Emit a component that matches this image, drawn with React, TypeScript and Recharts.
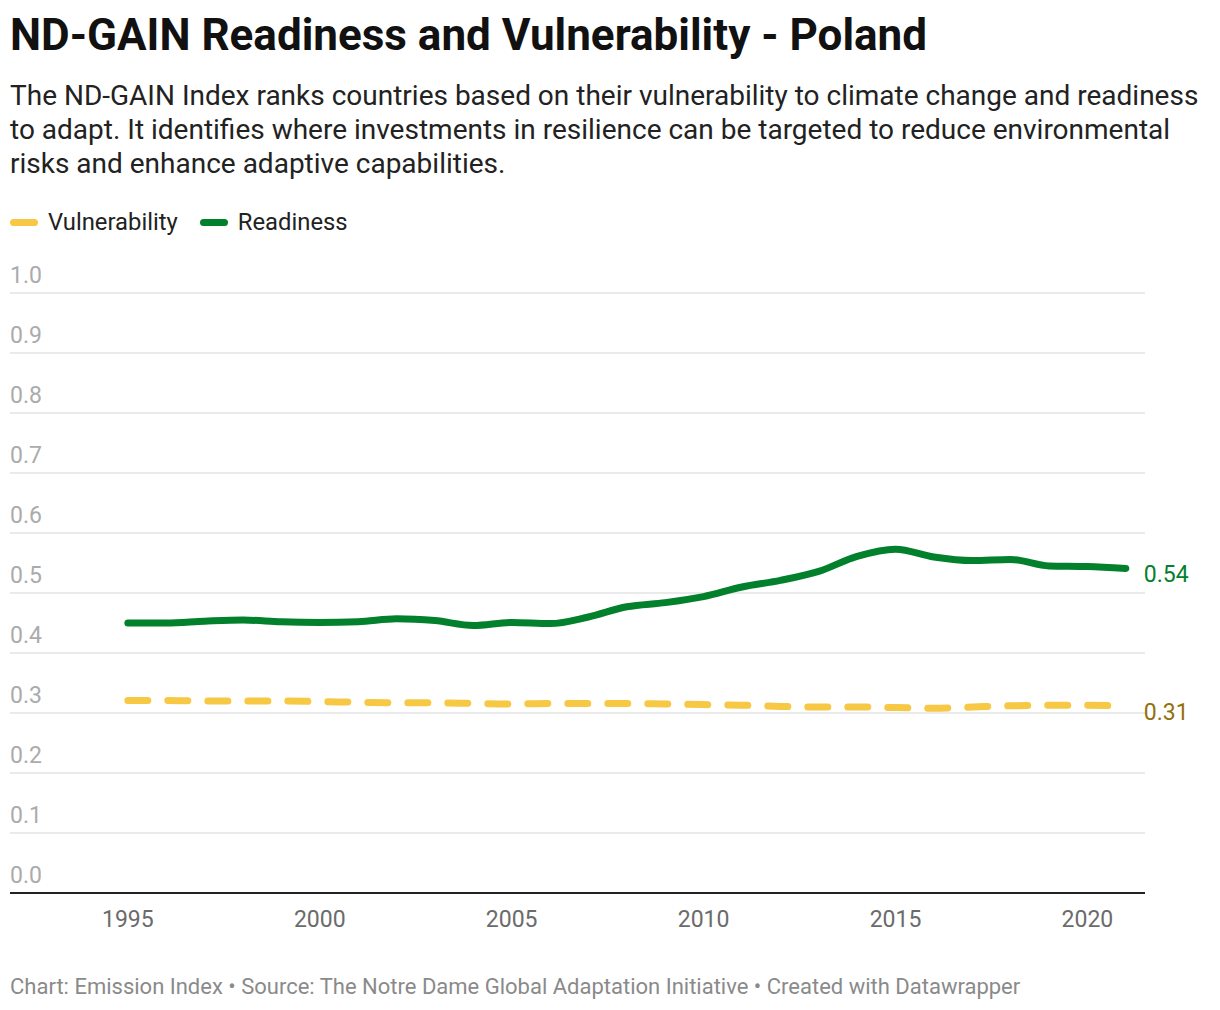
import { CartesianGrid, Line, LineChart, XAxis, YAxis } from "recharts";

const years = [
  1995, 1996, 1997, 1998, 1999, 2000, 2001, 2002, 2003, 2004, 2005, 2006, 2007,
  2008, 2009, 2010, 2011, 2012, 2013, 2014, 2015, 2016, 2017, 2018, 2019, 2020, 2021,
];

const readiness = [
  0.45, 0.45, 0.453, 0.455, 0.452, 0.451, 0.452, 0.457, 0.454, 0.446, 0.451, 0.449, 0.46,
  0.477, 0.484, 0.494, 0.51, 0.521, 0.536, 0.561, 0.573, 0.56, 0.554, 0.556, 0.545, 0.544, 0.541,
];

const vulnerability = [
  0.321, 0.321, 0.32, 0.32, 0.32, 0.319, 0.318, 0.317, 0.317, 0.316, 0.315, 0.316, 0.316,
  0.316, 0.315, 0.314, 0.313, 0.311, 0.31, 0.31, 0.309, 0.308, 0.31, 0.312, 0.313, 0.313, 0.311,
];

const xTicks = [1995, 2000, 2005, 2010, 2015, 2020];
const yTicks = [0, 0.1, 0.2, 0.3, 0.4, 0.5, 0.6, 0.7, 0.8, 0.9, 1.0];

const data = years.map((year, i) => ({
  year,
  readiness: readiness[i],
  vulnerability: vulnerability[i],
}));

const GREEN = "#03802c";
const YELLOW = "#f7c843";
const FONT = "Roboto, 'Noto Sans', sans-serif";

const CHART_TOP = 250;
const CHART_H = 700;
const PLOT_BOTTOM = 643; // inside the svg

function EndLabel(props: any, color: string) {
  const { x, y, index, value } = props;
  if (index !== years.length - 1) return null;
  return (
    <text
      x={x + 18}
      y={y + 14}
      fill={color}
      fontSize={23}
      fontFamily={FONT}
      textAnchor="start"
    >
      {value.toFixed(2)}
    </text>
  );
}

function YTick(props: any) {
  const { y, payload } = props;
  return (
    <text
      x={10}
      y={y - 10}
      fill="#ababab"
      fontSize={23}
      fontFamily={FONT}
      textAnchor="start"
    >
      {payload.value.toFixed(1)}
    </text>
  );
}

function XTick(props: any) {
  const { x, payload } = props;
  return (
    <text
      x={x}
      y={PLOT_BOTTOM + 34}
      fill="#6b6b6b"
      fontSize={23}
      fontFamily={FONT}
      textAnchor="middle"
    >
      {payload.value}
    </text>
  );
}

function LegendItem({ color, label }: { color: string; label: string }) {
  return (
    <div style={{ display: "flex", alignItems: "center", marginRight: 22 }}>
      <span
        style={{
          display: "inline-block",
          width: 28,
          height: 7,
          borderRadius: 4,
          background: color,
          marginRight: 10,
        }}
      />
      <span>{label}</span>
    </div>
  );
}

export default function App() {
  return (
    <div
      style={{
        position: "absolute",
        left: 0,
        top: 0,
        width: 1220,
        height: 1010,
        background: "#fff",
        fontFamily: FONT,
        overflow: "hidden",
      }}
    >
      <div
        style={{
          position: "absolute",
          left: 10,
          top: 10,
          fontSize: 44,
          lineHeight: "50px",
          fontWeight: 700,
          color: "#111",
          whiteSpace: "nowrap",
        }}
      >
        ND-GAIN Readiness and Vulnerability - Poland
      </div>
      <div
        style={{
          position: "absolute",
          left: 10,
          top: 79,
          fontSize: 28,
          lineHeight: "34px",
          color: "#222",
          whiteSpace: "nowrap",
        }}
      >
        The ND-GAIN Index ranks countries based on their vulnerability to climate change and readiness
        <br />
        to adapt. It identifies where investments in resilience can be targeted to reduce environmental
        <br />
        risks and enhance adaptive capabilities.
      </div>
      <div
        style={{
          position: "absolute",
          left: 10,
          top: 207,
          height: 30,
          display: "flex",
          alignItems: "center",
          fontSize: 23.8,
          color: "#222",
        }}
      >
        <LegendItem color={YELLOW} label="Vulnerability" />
        <LegendItem color={GREEN} label="Readiness" />
      </div>

      <div style={{ position: "absolute", left: 0, top: CHART_TOP }}>
        <LineChart
          width={1220}
          height={CHART_H}
          data={data}
          margin={{ top: 43, right: 75, left: 9, bottom: 17 }}
        >
          <CartesianGrid vertical={false} stroke="#e3e3e3" strokeWidth={1.5} />
          <XAxis
            dataKey="year"
            type="number"
            domain={[1991.93, 2021.5]}
            ticks={xTicks}
            height={40}
            axisLine={{ stroke: "#222", strokeWidth: 2 }}
            tickLine={false}
            tick={XTick}
            interval={0}
          />
          <YAxis
            type="number"
            domain={[0, 1]}
            ticks={yTicks}
            width={1}
            axisLine={false}
            tickLine={false}
            tick={YTick}
            interval={0}
          />
          <Line
            type="monotone"
            dataKey="vulnerability"
            stroke={YELLOW}
            strokeWidth={7}
            strokeDasharray="20 20"
            strokeLinecap="round"
            dot={false}
            activeDot={false}
            isAnimationActive={false}
            label={(p: any) => EndLabel(p, "#94700c")}
          />
          <Line
            type="monotone"
            dataKey="readiness"
            stroke={GREEN}
            strokeWidth={7}
            strokeLinecap="round"
            strokeLinejoin="round"
            dot={false}
            activeDot={false}
            isAnimationActive={false}
            label={(p: any) => EndLabel(p, GREEN)}
          />
        </LineChart>
      </div>

      <div
        style={{
          position: "absolute",
          left: 10,
          top: 974,
          fontSize: 22,
          lineHeight: "26px",
          color: "#8a8a8a",
          whiteSpace: "nowrap",
        }}
      >
        Chart: Emission Index • Source: The Notre Dame Global Adaptation Initiative • Created with Datawrapper
      </div>
    </div>
  );
}
